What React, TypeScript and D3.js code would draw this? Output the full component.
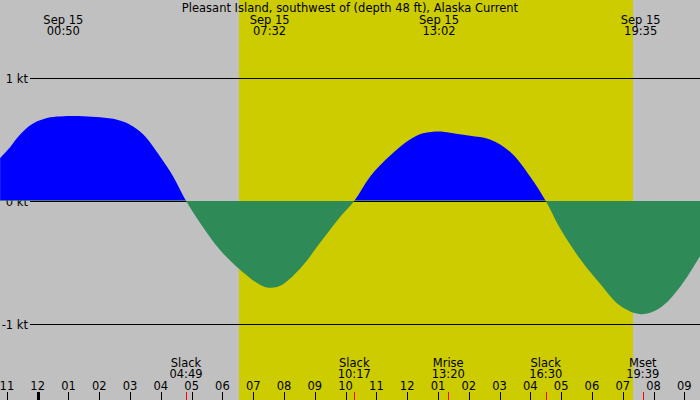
import * as d3 from "d3";

// current speed (kt) vs hours from midnight Sep 15
const hours = [
  -1.22, -0.89, -0.57, -0.15, 0.41, 0.83, 1.48, 2.03, 2.58, 3.0, 3.43, 3.98, 4.4, 4.82,
  5.28, 5.93, 6.58, 7.22, 7.53, 7.87, 8.52, 9.17, 9.82, 10.28,
  10.8, 11.45, 12.09, 12.52, 13.03, 13.39, 14.04, 14.69, 15.34, 15.99, 16.5,
  16.96, 17.61, 18.26, 18.91, 19.58, 20.21, 20.86, 21.51,
];
const knots = [
  0.35, 0.44, 0.54, 0.63, 0.68, 0.69, 0.69, 0.68, 0.66, 0.62, 0.54, 0.36, 0.2, 0,
  -0.18, -0.4, -0.56, -0.68, -0.705, -0.69, -0.55, -0.34, -0.13, 0,
  0.2, 0.37, 0.5, 0.55, 0.565, 0.555, 0.53, 0.5, 0.4, 0.2, 0,
  -0.22, -0.47, -0.67, -0.85, -0.92, -0.87, -0.7, -0.45,
];

const title = "Pleasant Island, southwest of (depth 48 ft), Alaska Current";
const extremeHours = [0.833, 7.533, 13.033, 19.583];
const extremeLabels = ["00:50", "07:32", "13:02", "19:35"];
const eventHours = [4.817, 10.283, 13.333, 16.5, 19.65];
const eventNames = ["Slack", "Slack", "Mrise", "Slack", "Mset"];
const eventLabels = ["04:49", "10:17", "13:20", "16:30", "19:39"];
const daylight = [6.55, 19.33];
const hourTicks = d3.range(-1, 22);
const kLevels = [1, 0, -1];

const W = 700;
const H = 400;
const FONT = "DejaVu Sans, sans-serif";
const FS = 11.5;

export default function App() {
  const x = d3.scaleLinear().domain([-1.224, 21.51]).range([0, W]);
  const y = d3.scaleLinear().domain([-1, 1]).range([324, 78]);
  const pts = hours.map((h, i) => [h, knots[i]] as [number, number]);
  const area = d3
    .area<[number, number]>()
    .x((d) => x(d[0]))
    .y0(y(0))
    .y1((d) => y(d[1]))
    .curve(d3.curveCatmullRom.alpha(0.5));
  const path = area(pts) ?? "";
  const zy = y(0) - 0.5;
  const px = (v: number) => Math.round(v) + 0.5;

  const hourLabel = (h: number) => {
    const m = ((h % 12) + 12) % 12;
    return String(m === 0 ? 12 : m).padStart(2, "0");
  };

  return (
    <svg width={W} height={H} style={{ position: "absolute", left: 0, top: 0 }} fontFamily={FONT}>
      <defs>
        <clipPath id="pos">
          <rect x={0} y={0} width={W} height={zy} />
        </clipPath>
        <clipPath id="neg">
          <rect x={0} y={zy} width={W} height={H - zy} />
        </clipPath>
      </defs>
      <rect width={W} height={H} fill="#c0c0c0" />
      <rect
        x={Math.round(x(daylight[0]))}
        y={0}
        width={Math.round(x(daylight[1])) - Math.round(x(daylight[0]))}
        height={H}
        fill="#cccc00"
      />
      {kLevels.map((k) => (
        <g key={k}>
          <line x1={30} x2={W} y1={y(k) + 0.5} y2={y(k) + 0.5} stroke="#000" strokeWidth={1} />
          <text x={28} y={y(k) + 4.5} textAnchor="end" fontSize={FS}>
            {k} kt
          </text>
        </g>
      ))}
      <path d={path} fill="#0000ff" clipPath="url(#pos)" />
      <path d={path} fill="#2e8b57" clipPath="url(#neg)" />

      <text x={W / 2} y={12} textAnchor="middle" fontSize={FS}>
        {title}
      </text>
      {extremeHours.map((h, i) => (
        <g key={h}>
          <text x={x(h)} y={23.5} textAnchor="middle" fontSize={FS}>
            Sep 15
          </text>
          <text x={x(h)} y={35} textAnchor="middle" fontSize={FS}>
            {extremeLabels[i]}
          </text>
        </g>
      ))}

      {eventHours.map((h, i) => (
        <g key={h}>
          <text x={x(h)} y={366.5} textAnchor="middle" fontSize={FS}>
            {eventNames[i]}
          </text>
          <text x={x(h)} y={378} textAnchor="middle" fontSize={FS}>
            {eventLabels[i]}
          </text>
          <line x1={px(x(h))} x2={px(x(h))} y1={392} y2={H} stroke="#ff0000" strokeWidth={1} />
        </g>
      ))}
      {hourTicks.map((h) => (
        <g key={h}>
          <text x={x(h)} y={390} textAnchor="middle" fontSize={FS}>
            {hourLabel(h)}
          </text>
          <line
            x1={px(x(h))}
            x2={px(x(h))}
            y1={392}
            y2={H}
            stroke="#000"
            strokeWidth={h === 0 ? 3 : 1}
          />
        </g>
      ))}
    </svg>
  );
}
